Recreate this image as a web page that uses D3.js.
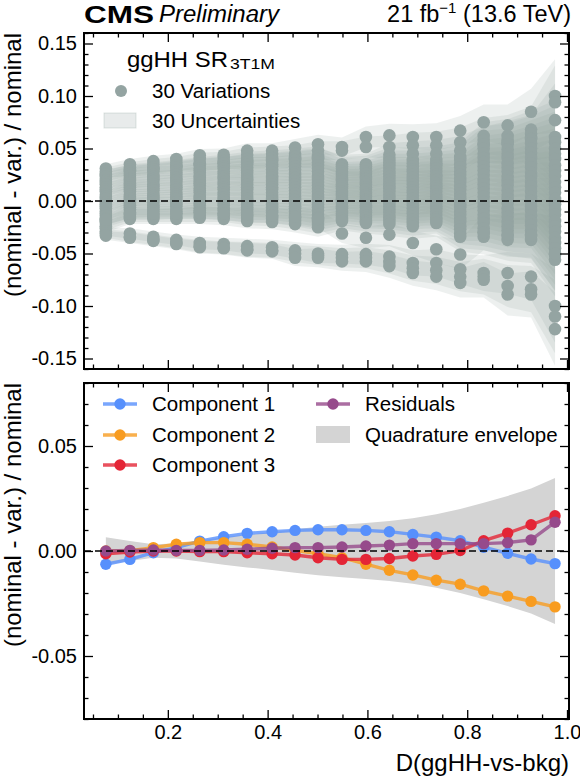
<!DOCTYPE html>
<html>
<head>
<meta charset="utf-8">
<script src="https://cdn.jsdelivr.net/npm/d3@7"></script>
<style>
  body { margin: 0; background: #fff; }
  text { font-family: "Liberation Sans", Arial, Helvetica, sans-serif; fill: #000; }
</style>
</head>
<body>
<svg width="580" height="782"></svg>
<script>
// bin centres of D(ggHH-vs-bkg)
var binCenters = [0.0758, 0.124, 0.171, 0.217, 0.264, 0.312, 0.359, 0.409, 0.455, 0.501,
                  0.549, 0.597, 0.644, 0.691, 0.738, 0.786, 0.833, 0.881, 0.928, 0.976];

// 30 variations (nominal - var.) / nominal, one row per variation
var variations = [
  [0.031, 0.035, 0.038, 0.040, 0.0435, 0.044, 0.048, 0.048, 0.051, 0.054, 0.0515, 0.061, 0.0625, 0.061, 0.061, 0.067, 0.075, 0.072, 0.085, 0.100],
  [0.028, 0.032, 0.035, 0.037, 0.040, 0.041, 0.044, 0.045, 0.045, 0.048, 0.048, 0.0515, 0.0515, 0.053, 0.053, 0.056, 0.062, 0.062, 0.068, 0.094],
  [0.026, 0.029, 0.031, 0.033, 0.035, 0.036, 0.038, 0.039, 0.040, 0.041, 0.035, 0.035, 0.044, 0.045, 0.045, 0.048, 0.054, 0.056, 0.060, 0.077],
  [0.025, 0.030, 0.032, 0.034, 0.036, 0.038, 0.040, 0.041, 0.042, 0.043, 0.033, 0.033, 0.040, 0.039, 0.039, 0.042, 0.058, 0.058, 0.064, 0.061],
  [0.023, 0.028, 0.030, 0.032, 0.034, 0.036, 0.037, 0.038, 0.039, 0.040, 0.031, 0.031, 0.037, 0.036, 0.036, 0.039, 0.054, 0.054, 0.059, 0.056],
  [0.020, 0.026, 0.028, 0.029, 0.031, 0.033, 0.035, 0.035, 0.036, 0.037, 0.028, 0.028, 0.034, 0.033, 0.034, 0.035, 0.050, 0.049, 0.055, 0.050],
  [0.018, 0.024, 0.025, 0.027, 0.029, 0.031, 0.032, 0.033, 0.033, 0.034, 0.026, 0.026, 0.031, 0.030, 0.031, 0.032, 0.045, 0.045, 0.050, 0.045],
  [0.016, 0.021, 0.023, 0.025, 0.027, 0.028, 0.029, 0.030, 0.030, 0.031, 0.024, 0.023, 0.028, 0.028, 0.028, 0.028, 0.041, 0.041, 0.046, 0.040],
  [0.013, 0.019, 0.021, 0.022, 0.024, 0.026, 0.027, 0.027, 0.027, 0.028, 0.021, 0.021, 0.026, 0.025, 0.025, 0.025, 0.037, 0.036, 0.041, 0.034],
  [0.011, 0.017, 0.019, 0.020, 0.022, 0.023, 0.024, 0.024, 0.025, 0.024, 0.019, 0.018, 0.023, 0.022, 0.023, 0.021, 0.033, 0.032, 0.036, 0.029],
  [0.009, 0.015, 0.016, 0.018, 0.019, 0.021, 0.021, 0.022, 0.022, 0.021, 0.016, 0.016, 0.020, 0.019, 0.020, 0.018, 0.029, 0.028, 0.032, 0.024],
  [0.006, 0.013, 0.014, 0.015, 0.017, 0.018, 0.019, 0.019, 0.019, 0.018, 0.014, 0.013, 0.017, 0.016, 0.017, 0.014, 0.025, 0.023, 0.027, 0.018],
  [0.004, 0.011, 0.012, 0.013, 0.015, 0.016, 0.016, 0.016, 0.016, 0.015, 0.012, 0.011, 0.014, 0.013, 0.014, 0.011, 0.020, 0.019, 0.023, 0.013],
  [0.002, 0.009, 0.010, 0.011, 0.012, 0.013, 0.013, 0.013, 0.013, 0.012, 0.009, 0.008, 0.012, 0.010, 0.012, 0.007, 0.016, 0.015, 0.018, 0.008],
  [-0.001, 0.006, 0.007, 0.008, 0.010, 0.011, 0.011, 0.011, 0.010, 0.009, 0.007, 0.006, 0.009, 0.008, 0.009, 0.004, 0.012, 0.010, 0.014, 0.002],
  [-0.003, 0.004, 0.005, 0.006, 0.008, 0.008, 0.008, 0.008, 0.007, 0.006, 0.005, 0.004, 0.006, 0.005, 0.006, 0.001, 0.008, 0.006, 0.009, -0.003],
  [-0.005, 0.002, 0.003, 0.004, 0.005, 0.006, 0.005, 0.005, 0.004, 0.003, 0.002, 0.001, 0.003, 0.002, 0.004, -0.003, 0.004, 0.002, 0.004, -0.008],
  [-0.007, 0.000, 0.001, 0.002, 0.003, 0.003, 0.002, 0.002, 0.001, 0.000, 0.000, -0.001, 0.000, -0.001, 0.001, -0.006, -0.001, -0.002, 0.000, -0.013],
  [-0.010, -0.002, -0.001, -0.001, 0.001, 0.001, 0.000, 0.000, -0.002, -0.003, -0.002, -0.004, -0.002, -0.004, -0.002, -0.010, -0.005, -0.007, -0.005, -0.019],
  [-0.012, -0.004, -0.004, -0.003, -0.002, -0.002, -0.003, -0.003, -0.005, -0.006, -0.005, -0.006, -0.005, -0.007, -0.005, -0.013, -0.009, -0.011, -0.009, -0.024],
  [-0.014, -0.006, -0.006, -0.005, -0.004, -0.004, -0.006, -0.006, -0.007, -0.009, -0.007, -0.009, -0.008, -0.010, -0.007, -0.017, -0.013, -0.015, -0.014, -0.029],
  [-0.017, -0.008, -0.008, -0.008, -0.007, -0.007, -0.008, -0.009, -0.010, -0.013, -0.010, -0.011, -0.011, -0.012, -0.010, -0.020, -0.017, -0.020, -0.019, -0.035],
  [-0.019, -0.011, -0.010, -0.010, -0.009, -0.009, -0.011, -0.011, -0.013, -0.016, -0.012, -0.014, -0.014, -0.015, -0.013, -0.024, -0.021, -0.024, -0.023, -0.040],
  [-0.021, -0.013, -0.013, -0.012, -0.011, -0.012, -0.014, -0.014, -0.016, -0.019, -0.014, -0.016, -0.016, -0.018, -0.016, -0.027, -0.026, -0.028, -0.028, -0.045],
  [-0.024, -0.015, -0.015, -0.015, -0.014, -0.014, -0.016, -0.017, -0.019, -0.022, -0.017, -0.019, -0.019, -0.021, -0.018, -0.031, -0.030, -0.033, -0.032, -0.051],
  [-0.026, -0.017, -0.017, -0.017, -0.016, -0.017, -0.019, -0.020, -0.022, -0.025, -0.019, -0.021, -0.022, -0.024, -0.021, -0.034, -0.034, -0.037, -0.037, -0.056],
  [-0.018, -0.012, -0.012, -0.012, -0.011, -0.012, -0.013, -0.014, -0.015, -0.017, -0.031, -0.035, -0.032, -0.040, -0.046, -0.051, -0.030, -0.032, -0.033, -0.050],
  [-0.029, -0.031, -0.034, -0.037, -0.040, -0.041, -0.043, -0.044, -0.047, -0.050, -0.0506, -0.0506, -0.053, -0.059, -0.059, -0.065, -0.0686, -0.0686, -0.072, -0.100],
  [-0.031, -0.034, -0.037, -0.040, -0.043, -0.0445, -0.046, -0.047, -0.050, -0.052, -0.054, -0.054, -0.058, -0.064, -0.066, -0.072, -0.072, -0.081, -0.084, -0.110],
  [-0.033, -0.035, -0.038, -0.041, -0.044, -0.045, -0.047, -0.048, -0.054, -0.054, -0.0575, -0.0575, -0.062, -0.0686, -0.072, -0.078, -0.075, -0.089, -0.089, -0.122]
];
// per-bin uncertainty drawn around each variation
var varUnc = [0.004, 0.005, 0.005, 0.005, 0.006, 0.006, 0.007, 0.007, 0.008, 0.009,
              0.009, 0.010, 0.011, 0.012, 0.013, 0.014, 0.017, 0.020, 0.022, 0.035];

// lower panel
var comp1 = [-0.0063, -0.0040, -0.0008, 0.0016, 0.0047, 0.0068, 0.0084, 0.0092, 0.0098, 0.0101,
             0.0101, 0.0098, 0.0092, 0.0079, 0.0066, 0.0049, 0.0018, -0.0011, -0.0038, -0.0060];
var comp2 = [0.0000, 0.0002, 0.0016, 0.0032, 0.0040, 0.0040, 0.0032, 0.0019, 0.0003, -0.0013,
             -0.0032, -0.0063, -0.0092, -0.0114, -0.0139, -0.0158, -0.0190, -0.0215, -0.0240, -0.0266];
var comp3 = [-0.0013, -0.0005, 0.0000, 0.0000, -0.0003, -0.0003, -0.0008, -0.0013, -0.0019, -0.0032,
             -0.0040, -0.0040, -0.0036, -0.0024, -0.0016, 0.0002, 0.0049, 0.0085, 0.0125, 0.0168];
var residuals = [0.0000, 0.0003, 0.0005, 0.0003, 0.0003, 0.0005, 0.0008, 0.0013, 0.0016, 0.0016,
                 0.0019, 0.0024, 0.0028, 0.0035, 0.0035, 0.0035, 0.0035, 0.0040, 0.0053, 0.0137];
var envelope = [0.0066, 0.0048, 0.0032, 0.0036, 0.0050, 0.0065, 0.0078, 0.0090, 0.0103, 0.0115,
                0.0125, 0.0133, 0.0143, 0.0156, 0.0175, 0.0200, 0.0230, 0.0262, 0.0298, 0.0348];

var xMajor = [0.2, 0.4, 0.6, 0.8, 1.0];
var topYMajor = [-0.15, -0.10, -0.05, 0.00, 0.05, 0.10, 0.15];
var botYMajor = [-0.05, 0.00, 0.05];

var svg = d3.select('svg');
var L = 84, R = 569;
var x = d3.scaleLinear().domain([0.032, 1.004]).range([L, R]);
var yTop = d3.scaleLinear().domain([-0.16, 0.16]).range([369, 33]);
var yBot = d3.scaleLinear().domain([-0.08, 0.08]).range([719, 383]);

var grey = '#94a4a2';

// minor tick positions
var xMinor = d3.range(1, 21).map(function(k) { return k * 0.05; })
  .filter(function(v) { return Math.abs(v / 0.2 - Math.round(v / 0.2)) > 1e-6; });
function yMinor(lim) {
  return d3.range(-Math.round(lim * 100), Math.round(lim * 100) + 1)
    .map(function(k) { return k / 100; })
    .filter(function(v) { return Math.abs(v / 0.05 - Math.round(v / 0.05)) > 1e-6; });
}

function clip(id, y) {
  svg.append('clipPath').attr('id', id).append('rect')
    .attr('x', L).attr('y', y.range()[1]).attr('width', R - L).attr('height', y.range()[0] - y.range()[1]);
}
clip('clipTop', yTop);
clip('clipBot', yBot);

function axes(y, yMajor, yMin, xLabels) {
  var g = svg.append('g');
  var top = y.range()[1], bot = y.range()[0];
  function style(a) {
    a.select('.domain').remove();
    a.selectAll('line').attr('stroke', '#000').attr('stroke-width', 1.3);
    a.selectAll('text').style('font-size', '20px').attr('fill', '#000');
  }
  // major
  g.append('g').attr('transform', 'translate(0,' + bot + ')')
    .call(d3.axisBottom(x).tickValues(xMajor).tickSizeInner(-9).tickSizeOuter(0).tickPadding(6)
      .tickFormat(xLabels ? function(d) { return d.toFixed(1); } : function() { return ''; }))
    .call(style);
  g.append('g').attr('transform', 'translate(0,' + top + ')')
    .call(d3.axisTop(x).tickValues(xMajor).tickSizeInner(-9).tickSizeOuter(0).tickFormat(''))
    .call(style);
  g.append('g').attr('transform', 'translate(' + L + ',0)')
    .call(d3.axisLeft(y).tickValues(yMajor).tickSizeInner(-9).tickSizeOuter(0).tickPadding(7)
      .tickFormat(function(d) { return d.toFixed(2); }))
    .call(style);
  g.append('g').attr('transform', 'translate(' + R + ',0)')
    .call(d3.axisRight(y).tickValues(yMajor).tickSizeInner(-9).tickSizeOuter(0).tickFormat(''))
    .call(style);
  // minor
  g.append('g').attr('transform', 'translate(0,' + bot + ')')
    .call(d3.axisBottom(x).tickValues(xMinor).tickSizeInner(-4.5).tickSizeOuter(0).tickFormat(''))
    .call(style);
  g.append('g').attr('transform', 'translate(0,' + top + ')')
    .call(d3.axisTop(x).tickValues(xMinor).tickSizeInner(-4.5).tickSizeOuter(0).tickFormat(''))
    .call(style);
  g.append('g').attr('transform', 'translate(' + L + ',0)')
    .call(d3.axisLeft(y).tickValues(yMin).tickSizeInner(-4.5).tickSizeOuter(0).tickFormat(''))
    .call(style);
  g.append('g').attr('transform', 'translate(' + R + ',0)')
    .call(d3.axisRight(y).tickValues(yMin).tickSizeInner(-4.5).tickSizeOuter(0).tickFormat(''))
    .call(style);
  // frame
  g.append('rect').attr('x', L).attr('y', top).attr('width', R - L).attr('height', bot - top)
    .attr('fill', 'none').attr('stroke', '#000').attr('stroke-width', 2);
}

// ---------- upper panel ----------
var pTop = svg.append('g').attr('clip-path', 'url(#clipTop)');
var band = d3.area()
  .x(function(d, i) { return x(binCenters[i]); })
  .y0(function(d, i) { return yTop(d - varUnc[i]); })
  .y1(function(d, i) { return yTop(d + varUnc[i]); });
pTop.selectAll('path.band').data(variations).enter().append('path')
  .attr('class', 'band').attr('d', band)
  .attr('fill', grey).attr('fill-opacity', 0.17);

variations.forEach(function(row) {
  pTop.append('g').selectAll('circle').data(row).enter().append('circle')
    .attr('cx', function(d, i) { return x(binCenters[i]); })
    .attr('cy', function(d) { return yTop(d); })
    .attr('r', 6.3)
    .attr('fill', grey);
});

pTop.append('line').attr('x1', L).attr('x2', R).attr('y1', yTop(0)).attr('y2', yTop(0))
  .attr('stroke', '#000').attr('stroke-width', 1.5).attr('stroke-dasharray', '7,4');

axes(yTop, topYMajor, yMinor(0.16), false);

// legend (upper)
svg.append('text').attr('x', 127).attr('y', 67).style('font-size', '21.5px')
  .attr('textLength', 101).attr('lengthAdjust', 'spacingAndGlyphs').text('ggHH SR');
svg.append('text').attr('x', 230).attr('y', 69).style('font-size', '14px')
  .attr('textLength', 45).attr('lengthAdjust', 'spacingAndGlyphs').text('3T1M');
svg.append('circle').attr('cx', 121).attr('cy', 91).attr('r', 6).attr('fill', grey);
svg.append('text').attr('x', 152).attr('y', 91).attr('dy', '0.35em').style('font-size', '20.5px').text('30 Variations');
svg.append('rect').attr('x', 104).attr('y', 113).attr('width', 32).attr('height', 15)
  .attr('fill', grey).attr('fill-opacity', 0.22).attr('stroke', grey).attr('stroke-opacity', 0.3);
svg.append('text').attr('x', 152).attr('y', 121).attr('dy', '0.35em').style('font-size', '20.5px').text('30 Uncertainties');

// ---------- lower panel ----------
var pBot = svg.append('g').attr('clip-path', 'url(#clipBot)');
pBot.append('path').datum(envelope)
  .attr('d', d3.area()
    .x(function(d, i) { return x(binCenters[i]); })
    .y0(function(d) { return yBot(-d); })
    .y1(function(d) { return yBot(d); }))
  .attr('fill', '#d4d4d4');

var comps = [
  { name: 'Component 1', vals: comp1, color: '#5790fc' },
  { name: 'Component 2', vals: comp2, color: '#f89c20' },
  { name: 'Component 3', vals: comp3, color: '#e42536' },
  { name: 'Residuals', vals: residuals, color: '#964a8b' }
];
var line = d3.line()
  .x(function(d, i) { return x(binCenters[i]); })
  .y(function(d) { return yBot(d); });
comps.forEach(function(c) {
  pBot.append('path').datum(c.vals).attr('d', line)
    .attr('fill', 'none').attr('stroke', c.color).attr('stroke-width', 3.4).attr('stroke-opacity', 0.8);
  pBot.append('g').selectAll('circle').data(c.vals).enter().append('circle')
    .attr('cx', function(d, i) { return x(binCenters[i]); })
    .attr('cy', function(d) { return yBot(d); })
    .attr('r', 5.7).attr('fill', c.color);
});

pBot.append('line').attr('x1', L).attr('x2', R).attr('y1', yBot(0)).attr('y2', yBot(0))
  .attr('stroke', '#000').attr('stroke-width', 1.5).attr('stroke-dasharray', '7,4');

axes(yBot, botYMajor, yMinor(0.08), true);

// legend (lower)
var legPos = [[103, 404], [103, 435], [103, 465], [316, 404]];
comps.forEach(function(c, i) {
  var p = legPos[i];
  svg.append('line').attr('x1', p[0]).attr('x2', p[0] + 34).attr('y1', p[1]).attr('y2', p[1])
    .attr('stroke', c.color).attr('stroke-width', 3.4).attr('stroke-opacity', 0.8);
  svg.append('circle').attr('cx', p[0] + 17).attr('cy', p[1]).attr('r', 5.7).attr('fill', c.color);
  svg.append('text').attr('x', p[0] + 49).attr('y', p[1]).attr('dy', '0.35em')
    .style('font-size', '20.5px').text(c.name);
});
svg.append('rect').attr('x', 316).attr('y', 426).attr('width', 34).attr('height', 17).attr('fill', '#d4d4d4');
svg.append('text').attr('x', 365).attr('y', 435).attr('dy', '0.35em').style('font-size', '20.5px').text('Quadrature envelope');

// ---------- labels ----------
svg.append('text').attr('x', 84).attr('y', 22.5).style('font-size', '24.5px').style('font-weight', 'bold')
  .attr('textLength', 70).attr('lengthAdjust', 'spacingAndGlyphs').text('CMS');
svg.append('text').attr('x', 159).attr('y', 22).style('font-size', '23px').style('font-style', 'italic')
  .attr('textLength', 120).attr('lengthAdjust', 'spacingAndGlyphs').text('Preliminary');
var lumi = svg.append('text').attr('x', 571).attr('y', 22).attr('text-anchor', 'end').style('font-size', '23.5px');
lumi.append('tspan').text('21 fb');
lumi.append('tspan').attr('dy', -9).style('font-size', '15px').text('\u22121');
lumi.append('tspan').attr('dy', 9).text(' (13.6 TeV)');

svg.append('text').attr('transform', 'translate(21,33) rotate(-90)').attr('text-anchor', 'end')
  .style('font-size', '24px').text('(nominal - var.) / nominal');
svg.append('text').attr('transform', 'translate(21,383) rotate(-90)').attr('text-anchor', 'end')
  .style('font-size', '24px').text('(nominal - var.) / nominal');
svg.append('text').attr('x', 569).attr('y', 771).attr('text-anchor', 'end')
  .style('font-size', '24px').text('D(ggHH-vs-bkg)');
</script>
</body>
</html>
